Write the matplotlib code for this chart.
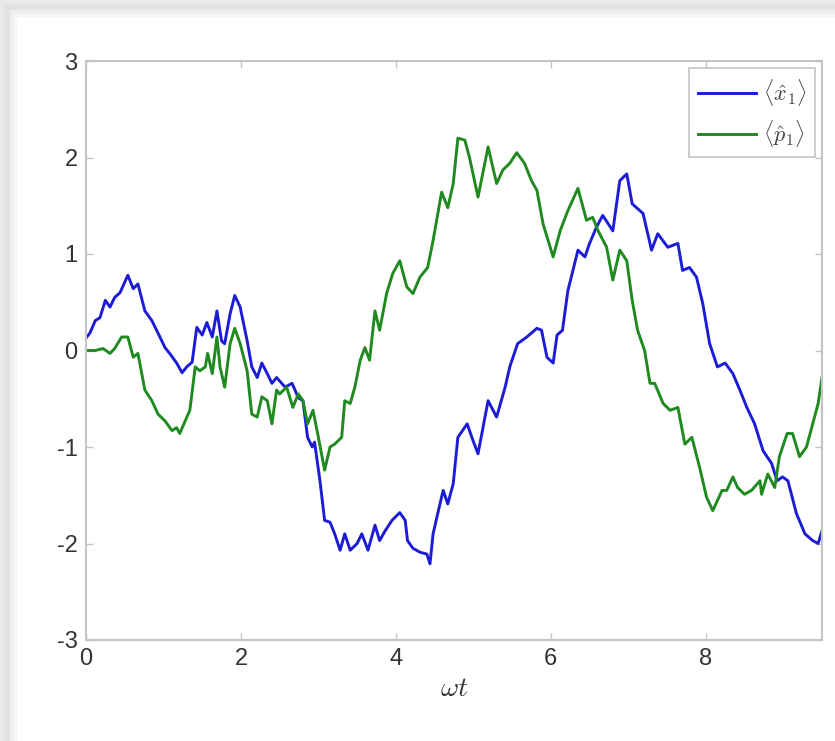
import matplotlib
matplotlib.use("Agg")
import matplotlib.pyplot as plt
from matplotlib.patches import Rectangle

# <x1> trace
t_x = [0.01, 0.05, 0.12, 0.18, 0.25, 0.31, 0.37, 0.44, 0.54, 0.61, 0.67, 0.76, 0.85, 0.93,
       1.02, 1.08, 1.17, 1.24, 1.30, 1.37, 1.43, 1.50, 1.56, 1.63, 1.69, 1.75, 1.79, 1.86,
       1.92, 1.99, 2.08, 2.14, 2.21, 2.27, 2.34, 2.40, 2.46, 2.57, 2.66, 2.74, 2.80, 2.86,
       2.92, 2.95, 3.02, 3.08, 3.15, 3.21, 3.28, 3.34, 3.41, 3.50, 3.56, 3.64, 3.73, 3.79,
       3.86, 3.95, 4.05, 4.12, 4.15, 4.22, 4.31, 4.40, 4.44, 4.48, 4.54, 4.61, 4.67, 4.74,
       4.80, 4.92, 4.98, 5.06, 5.19, 5.30, 5.41, 5.47, 5.57, 5.69, 5.82, 5.88, 5.95, 6.03,
       6.08, 6.15, 6.22, 6.35, 6.44, 6.50, 6.59, 6.67, 6.80, 6.89, 6.98, 7.05, 7.12, 7.19,
       7.30, 7.38, 7.51, 7.64, 7.70, 7.79, 7.88, 7.96, 8.05, 8.15, 8.25, 8.35, 8.44, 8.53,
       8.63, 8.74, 8.85, 8.92, 8.99, 9.06, 9.17, 9.28, 9.38, 9.45, 9.50]
x1 = [0.14, 0.18, 0.31, 0.34, 0.52, 0.45, 0.55, 0.60, 0.78, 0.64, 0.69, 0.41, 0.31, 0.18,
      0.03, -0.03, -0.13, -0.23, -0.17, -0.12, 0.24, 0.16, 0.29, 0.14, 0.41, 0.10, 0.07, 0.38,
      0.57, 0.45, 0.10, -0.17, -0.28, -0.13, -0.24, -0.34, -0.28, -0.38, -0.34, -0.49, -0.52, -0.90,
      -1.00, -0.95, -1.35, -1.76, -1.78, -1.90, -2.07, -1.90, -2.07, -2.00, -1.90, -2.07, -1.81, -1.97,
      -1.87, -1.76, -1.68, -1.76, -1.97, -2.05, -2.09, -2.11, -2.21, -1.90, -1.69, -1.45, -1.59, -1.38,
      -0.90, -0.76, -0.90, -1.07, -0.52, -0.69, -0.38, -0.17, 0.07, 0.14, 0.23, 0.21, -0.07, -0.13,
      0.16, 0.21, 0.62, 1.04, 0.97, 1.11, 1.28, 1.40, 1.24, 1.76, 1.83, 1.52, 1.47, 1.42,
      1.04, 1.21, 1.07, 1.11, 0.83, 0.86, 0.76, 0.49, 0.07, -0.17, -0.13, -0.24, -0.41, -0.59,
      -0.76, -1.04, -1.17, -1.35, -1.31, -1.35, -1.69, -1.90, -1.97, -2.00, -1.87]

# <p1> trace
t_p = [0.01, 0.12, 0.22, 0.31, 0.37, 0.46, 0.54, 0.61, 0.67, 0.76, 0.85, 0.93, 1.02, 1.11,
       1.17, 1.21, 1.28, 1.34, 1.41, 1.47, 1.54, 1.57, 1.63, 1.69, 1.73, 1.79, 1.86, 1.92,
       1.99, 2.08, 2.14, 2.21, 2.27, 2.34, 2.40, 2.46, 2.50, 2.59, 2.67, 2.74, 2.80, 2.86,
       2.93, 2.99, 3.08, 3.15, 3.21, 3.30, 3.34, 3.41, 3.47, 3.54, 3.60, 3.66, 3.73, 3.79,
       3.88, 3.96, 4.05, 4.14, 4.22, 4.31, 4.41, 4.48, 4.59, 4.67, 4.74, 4.80, 4.89, 4.95,
       5.06, 5.19, 5.30, 5.38, 5.47, 5.56, 5.66, 5.75, 5.82, 5.90, 6.03, 6.12, 6.22, 6.35,
       6.46, 6.54, 6.61, 6.72, 6.80, 6.89, 6.98, 7.05, 7.12, 7.21, 7.28, 7.34, 7.45, 7.54,
       7.64, 7.73, 7.82, 7.92, 8.01, 8.09, 8.21, 8.27, 8.35, 8.41, 8.50, 8.59, 8.70, 8.72,
       8.80, 8.89, 8.95, 9.05, 9.12, 9.21, 9.30, 9.38, 9.45, 9.50]
p1 = [0.00, 0.00, 0.02, -0.03, 0.02, 0.14, 0.14, -0.07, -0.03, -0.41, -0.52, -0.66, -0.73, -0.83,
      -0.80, -0.86, -0.73, -0.62, -0.17, -0.21, -0.17, -0.03, -0.24, 0.14, -0.17, -0.38, 0.07, 0.23,
      0.07, -0.21, -0.66, -0.69, -0.48, -0.52, -0.76, -0.41, -0.45, -0.38, -0.59, -0.45, -0.52, -0.76,
      -0.62, -0.86, -1.24, -1.00, -0.97, -0.90, -0.52, -0.55, -0.38, -0.10, 0.03, -0.10, 0.41, 0.21,
      0.59, 0.80, 0.93, 0.66, 0.59, 0.76, 0.86, 1.14, 1.64, 1.48, 1.73, 2.20, 2.18, 2.00,
      1.59, 2.11, 1.73, 1.87, 1.94, 2.05, 1.94, 1.76, 1.66, 1.31, 0.97, 1.24, 1.45, 1.68,
      1.35, 1.38, 1.24, 1.07, 0.73, 1.04, 0.93, 0.52, 0.21, 0.00, -0.34, -0.34, -0.55, -0.62,
      -0.59, -0.97, -0.90, -1.21, -1.52, -1.66, -1.45, -1.45, -1.31, -1.42, -1.49, -1.45, -1.35, -1.49,
      -1.28, -1.42, -1.10, -0.86, -0.86, -1.10, -1.00, -0.76, -0.55, -0.28]

x_ticks = [0, 2, 4, 6, 8]
y_ticks = [-3, -2, -1, 0, 1, 2, 3]

plt.rcParams['mathtext.fontset'] = 'cm'
plt.rcParams['axes.unicode_minus'] = False

fig = plt.figure(figsize=(8.35, 7.41), dpi=100, facecolor='#e9e9e9')
W, H = 835.0, 741.0
# soft shadow then white panel (screenshot look)
for off, col in [(4, '#e2e2e2'), (10, '#eeeeee'), (14, '#f6f6f6')]:
    fig.patches.append(Rectangle((off / W, 0), 1, 1 - off / H, transform=fig.transFigure,
                                 facecolor=col, edgecolor='none', zorder=-10))
fig.patches.append(Rectangle((17 / W, 0), 1, 1 - 17 / H, transform=fig.transFigure,
                             facecolor='white', edgecolor='none', zorder=-9))

ax = fig.add_axes([86 / W, 1 - 640 / H, (822 - 86) / W, (640 - 61) / H])
ax.set_facecolor('white')

ax.plot(t_x, x1, color='#1c1cd6', lw=2.1, label=r'$\langle\hat{x}_1\rangle$')
ax.plot(t_p, p1, color='#1f8a1f', lw=2.1, label=r'$\langle\hat{p}_1\rangle$')

ax.set_xlim(0, 9.5)
ax.set_ylim(-3, 3)
ax.set_xticks(x_ticks)
ax.set_yticks(y_ticks)
ax.tick_params(direction='in', length=5, width=1, color='#c4c4c4', top=True, right=True,
               labelsize=17, labelcolor='#333333', pad=6)
for lab in ax.get_xticklabels() + ax.get_yticklabels():
    lab.set_fontfamily('Liberation Sans')
for s in ax.spines.values():
    s.set_color('#c4c4c4')
    s.set_linewidth(1.5)

ax.set_xlabel(r'$\omega t$', fontsize=20, color='#333333', labelpad=3)

leg = ax.legend(loc='upper right', fontsize=16, fancybox=False, framealpha=1,
                borderaxespad=0.3, handlelength=2.6, handletextpad=0.3,
                borderpad=0.4, labelspacing=0.45)
leg.get_frame().set_edgecolor('#c4c4c4')
leg.get_frame().set_linewidth(1.2)
for txt in leg.get_texts():
    txt.set_color('#444444')

fig.savefig('out.png', dpi=100, facecolor=fig.get_facecolor())
